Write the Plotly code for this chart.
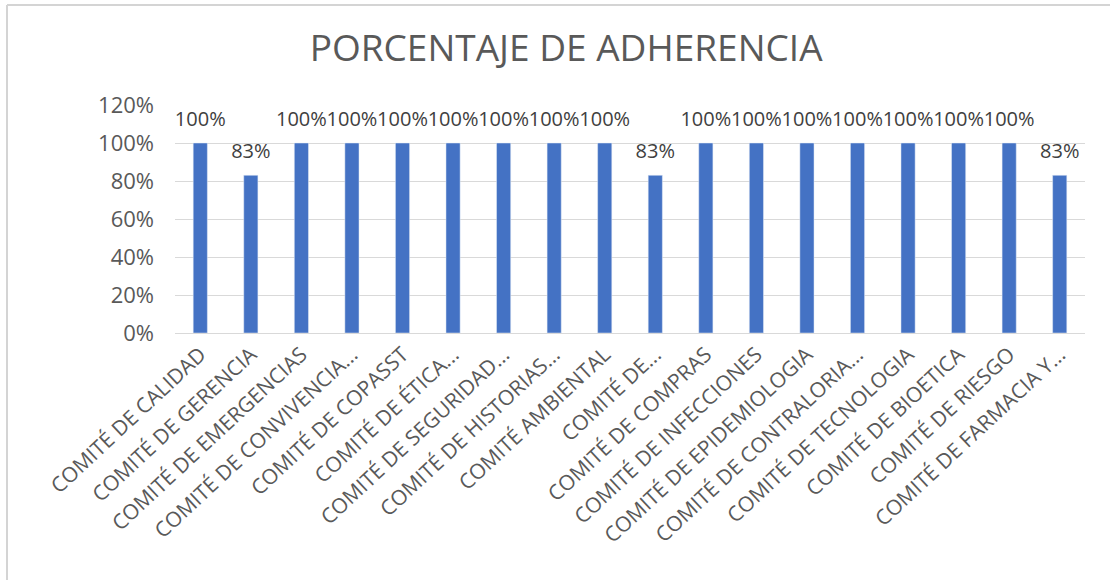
import plotly.graph_objects as go

comites = [
    "COMITÉ DE CALIDAD", "COMITÉ DE GERENCIA", "COMITÉ DE EMERGENCIAS",
    "COMITÉ DE CONVIVENCIA...", "COMITÉ DE COPASST", "COMITÉ DE ÉTICA...",
    "COMITÉ DE SEGURIDAD...", "COMITÉ DE HISTORIAS...", "COMITÉ AMBIENTAL",
    "COMITÉ DE...", "COMITÉ DE COMPRAS", "COMITÉ DE INFECCIONES",
    "COMITÉ DE EPIDEMIOLOGIA", "COMITÉ DE CONTRALORIA...", "COMITÉ DE TECNOLOGIA",
    "COMITÉ DE BIOETICA", "COMITÉ DE RIESGO", "COMITÉ DE FARMACIA Y...",
]
adherencia = [1.00, 0.83, 1.00, 1.00, 1.00, 1.00, 1.00, 1.00, 1.00,
              0.83, 1.00, 1.00, 1.00, 1.00, 1.00, 1.00, 1.00, 0.83]
y_ticks = [0, 0.2, 0.4, 0.6, 0.8, 1.0, 1.2]

FONT = "Open Sans"
GRIS = "#595959"

fig = go.Figure()
fig.add_trace(go.Bar(x=comites, y=adherencia, marker_color="#4472C4"))
# etiquetas de datos, un poco por encima de cada barra
fig.add_trace(go.Scatter(
    x=comites, y=adherencia, mode="markers+text",
    marker=dict(size=18, opacity=0),
    text=[f"{v:.0%}" for v in adherencia],
    textposition="top center",
    textfont=dict(family=FONT, size=20, color="#404040"),
    cliponaxis=False, hoverinfo="skip",
))

fig.update_layout(
    width=1110, height=580,
    margin=dict(l=175, r=25, t=105, b=247),
    paper_bgcolor="white", plot_bgcolor="white",
    bargap=0.72,
    showlegend=False,
    title=dict(text="PORCENTAJE DE ADHERENCIA", x=0.51, xanchor="center",
               y=0.917, yanchor="middle",
               font=dict(family=FONT, size=37, color=GRIS)),
    font=dict(family=FONT, color=GRIS),
    shapes=[
        dict(type="line", xref="paper", yref="paper", x0=-0.1846, x1=1.05,
             y0=1.4386, y1=1.4386, line=dict(color="#d4d4d4", width=2)),
        dict(type="line", xref="paper", yref="paper", x0=-0.1846, x1=-0.1846,
             y0=1.4386, y1=-1.2, line=dict(color="#d4d4d4", width=2)),
    ],
)
fig.update_xaxes(range=[-0.5, len(comites) - 0.5],
                 tickangle=-43, tickfont=dict(family=FONT, size=21, color=GRIS),
                 showline=True, linecolor="#d9d9d9", linewidth=1, ticks="")
fig.update_yaxes(range=[0, 1.2], tickvals=y_ticks, tickformat=".0%",
                 tickfont=dict(family=FONT, size=22, color=GRIS),
                 ticklabelstandoff=20,
                 gridcolor="#d9d9d9", zeroline=False, ticks="",
                 showline=False)

fig.write_html("out.html", config={"displayModeBar": False},
               post_script="document.body.style.margin='0';")
